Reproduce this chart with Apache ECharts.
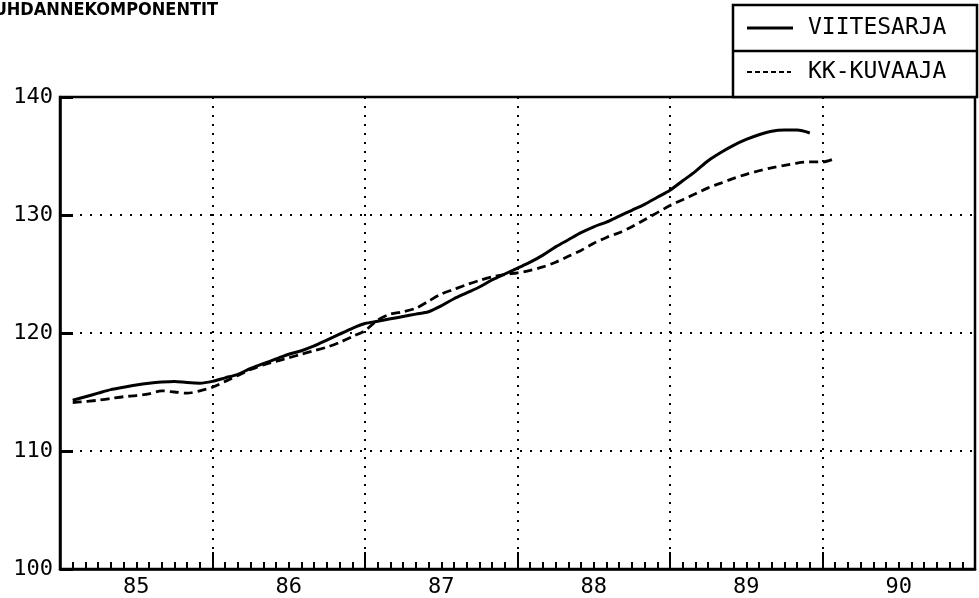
<!DOCTYPE html>
<html><head><meta charset="utf-8">
<script src="https://cdn.jsdelivr.net/npm/echarts@6/dist/echarts.min.js"></script>
<style>html,body{margin:0;padding:0;background:#fff}#c{width:979px;height:598px}</style>
</head><body><div id="c"></div>
<script>
const titleText = 'SUHDANNEKOMPONENTIT';
const seriesNames = ['VIITESARJA', 'KK-KUVAAJA'];
const yearLabels = ['85', '86', '87', '88', '89', '90'];
// monthly values, first value = Jan 1985
const viitesarja = [
  114.3, 114.6, 114.9, 115.2, 115.4, 115.6, 115.75, 115.85, 115.9, 115.8, 115.75, 115.9,
  116.2, 116.5, 117.0, 117.4, 117.8, 118.2, 118.5, 118.9, 119.4, 119.9, 120.4, 120.8,
  121.0, 121.2, 121.4, 121.6, 121.8, 122.3, 122.9, 123.4, 123.9, 124.5, 125.0, 125.5,
  126.0, 126.6, 127.3, 127.9, 128.5, 129.0, 129.4, 129.9, 130.4, 130.9, 131.5, 132.1,
  132.9, 133.7, 134.6, 135.3, 135.9, 136.4, 136.8, 137.1, 137.2, 137.2, 136.95
];
const kkKuvaaja = [
  114.1, 114.2, 114.3, 114.45, 114.6, 114.7, 114.85, 115.1, 115.0, 114.9, 115.1, 115.4,
  115.9, 116.4, 116.9, 117.3, 117.6, 117.9, 118.2, 118.5, 118.8, 119.2, 119.7, 120.2,
  121.1, 121.6, 121.8, 122.1, 122.7, 123.3, 123.7, 124.1, 124.45, 124.75, 124.95, 125.1,
  125.3, 125.6, 126.0, 126.5, 127.0, 127.6, 128.1, 128.5, 129.0, 129.6, 130.2, 130.8,
  131.3, 131.8, 132.3, 132.7, 133.1, 133.45, 133.75, 134.0, 134.2, 134.4, 134.5, 134.5,
  134.8
];
const yMin = 100, yMax = 140, yStep = 10;

const FONT = 'DejaVu Sans Mono';
const chart = echarts.init(document.getElementById('c'), null, {renderer: 'canvas'});
const toPts = arr => arr.map((v, i) => [i + 1, v]);

const option = {
  animation: false,
  backgroundColor: '#fff',
  grid: {left: 60, right: 4, top: 97, bottom: 28, show: true, borderColor: '#000', borderWidth: 2.5},
  xAxis: [
    {type: 'value', min: 0, max: 72, interval: 1,
     axisLine: {show: true, lineStyle: {color: '#000', width: 2.5}},
     axisTick: {show: true, inside: true, length: 7, lineStyle: {color: '#000', width: 2}},
     axisLabel: {show: false}, splitLine: {show: false}},
    {type: 'value', min: 0, max: 72, interval: 12, position: 'bottom',
     axisLine: {show: false},
     axisTick: {show: true, inside: true, length: 17, lineStyle: {color: '#000', width: 2}},
     axisLabel: {show: false},
     splitLine: {show: true, lineStyle: {color: '#000', width: 2, type: [2, 7]}}},
    {type: 'value', min: 0, max: 72, interval: 6, position: 'bottom',
     axisLine: {show: false}, axisTick: {show: false}, splitLine: {show: false},
     axisLabel: {show: true, margin: 7, fontFamily: FONT, fontSize: 22, color: '#000',
       formatter: v => (v % 12 === 6) ? yearLabels[(v - 6) / 12] : ''}}
  ],
  yAxis: {
    type: 'value', min: yMin, max: yMax, interval: yStep,
    axisLine: {show: true, lineStyle: {color: '#000', width: 2.5}},
    axisTick: {show: true, inside: true, length: 13, lineStyle: {color: '#000', width: 3}},
    axisLabel: {margin: 7, fontFamily: FONT, fontSize: 22, color: '#000'},
    splitLine: {show: true, lineStyle: {color: '#000', width: 2, type: [2, 8]}}
  },
  series: [
    {type: 'line', name: seriesNames[0], xAxisIndex: 0, data: toPts(viitesarja),
     showSymbol: false, smooth: 0.3, lineStyle: {color: '#000', width: 3}},
    {type: 'line', name: seriesNames[1], xAxisIndex: 0, data: toPts(kkKuvaaja),
     showSymbol: false, smooth: 0.3, lineStyle: {color: '#000', width: 2.8, type: [9, 5]}}
  ],
  graphic: [
    {type: 'text', x: -18, y: 10, style: {text: titleText, fontFamily: 'DejaVu Sans Condensed', fontWeight: 'bold', fontSize: 18, fill: '#000', verticalAlign: 'middle'}},
    {type: 'rect', shape: {x: 733, y: 5, width: 244, height: 92}, style: {fill: '#fff', stroke: '#000', lineWidth: 2.5}, z: 10},
    {type: 'line', shape: {x1: 733, y1: 51, x2: 977, y2: 51}, style: {stroke: '#000', lineWidth: 2.5}, z: 11},
    {type: 'line', shape: {x1: 747, y1: 28, x2: 793, y2: 28}, style: {stroke: '#000', lineWidth: 3}, z: 11},
    {type: 'line', shape: {x1: 747, y1: 72, x2: 791, y2: 72}, style: {stroke: '#000', lineWidth: 2, lineDash: [5, 3]}, z: 11},
    {type: 'text', x: 808, y: 28, z: 11, style: {text: seriesNames[0], fontFamily: FONT, fontSize: 23, fill: '#000', verticalAlign: 'middle'}},
    {type: 'text', x: 808, y: 72, z: 11, style: {text: seriesNames[1], fontFamily: FONT, fontSize: 23, fill: '#000', verticalAlign: 'middle'}}
  ]
};
chart.setOption(option);
</script></body></html>
